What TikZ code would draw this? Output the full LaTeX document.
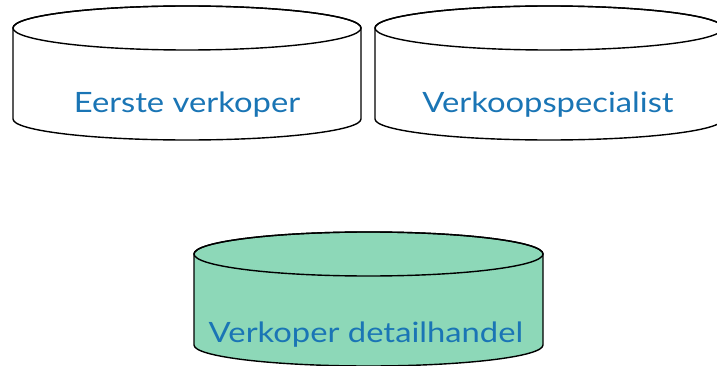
\documentclass[tikz,border=0pt]{standalone}
\usepackage{fontspec}
\setmainfont{Lato}
\definecolor{txtblue}{HTML}{1A75B5}
\definecolor{mint}{HTML}{8DD8B8}
\tikzset{
  cyl/.style={draw=black, line width=1.4pt},
  lbl/.style={text=txtblue, font=\fontsize{28}{32}\selectfont, anchor=base, inner sep=0pt, xscale=1.17}
}
\begin{document}
\begin{tikzpicture}[x=1pt,y=-1pt]
\useasboundingbox (0,0) rectangle (717,366);
\begin{scope}
\clip (0,0) rectangle (717,366);
% cylinder 1
\path[cyl, fill=white] (13,28) -- (13,119) arc[start angle=180, end angle=360, x radius=174, y radius=-21] -- (361,28) arc[start angle=0, end angle=180, x radius=174, y radius=-22] -- cycle;
\draw[cyl] (187,28) ellipse[x radius=174, y radius=22];
% cylinder 2
\path[cyl, fill=white] (375,28) -- (375,119) arc[start angle=180, end angle=360, x radius=174, y radius=-21] -- (723,28) arc[start angle=0, end angle=180, x radius=174, y radius=-22] -- cycle;
\draw[cyl] (549,28) ellipse[x radius=174, y radius=22];
% cylinder 3
\path[cyl, fill=mint] (194,254) -- (194,345) arc[start angle=180, end angle=360, x radius=174.5, y radius=-21] -- (543,254) arc[start angle=0, end angle=180, x radius=174.5, y radius=-22] -- cycle;
\draw[cyl] (368.5,254) ellipse[x radius=174.5, y radius=22];
\end{scope}
\node[lbl] (a) at (187,113) {Eerste verkoper};
\node[lbl] (b) at (548,113) {Verkoopspecialist};
\node[lbl] (c) at (366,342) {Verkoper detailhandel};
\end{tikzpicture}
\end{document}
